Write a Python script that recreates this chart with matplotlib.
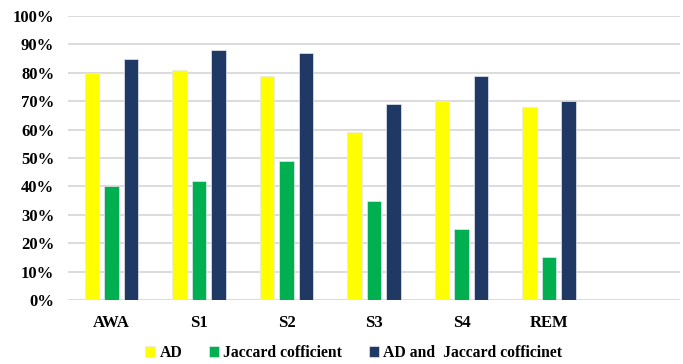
import numpy as np
import matplotlib
matplotlib.use('Agg')
from matplotlib import pyplot as plt
from matplotlib.ticker import PercentFormatter

stages = ['AWA', 'S1', 'S2', 'S3', 'S4', 'REM']
ad = [80, 81, 79, 59, 70, 68]
jaccard = [40, 42, 49, 35, 25, 15]
ad_jaccard = [85, 88, 87, 69, 79, 70]
series_names = ['AD', 'Jaccard cofficient', 'AD and  Jaccard cofficinet']
colors = ['#FFFF00', '#00B050', '#1F3864']

plt.rcParams['font.family'] = ['Liberation Serif', 'DejaVu Serif']
plt.rcParams['font.weight'] = 'bold'

fig = plt.figure(figsize=(6.83, 3.64), dpi=100)
ax = fig.add_axes([0.0996, 0.1758, 0.8960, 0.7802])

x = np.arange(len(stages))
w = 0.166
step = 0.223
for i, (vals, name, c) in enumerate(zip([ad, jaccard, ad_jaccard], series_names, colors)):
    ax.bar(x + (i - 1) * step, np.array(vals) / 100, width=w, color=c,
           edgecolor='#e6e8ee', linewidth=0.5, label=name, zorder=3)

# one empty slot on the right, like the original sheet
ax.set_xlim(-0.5, 6.5)
ax.set_ylim(0, 1.0)
ax.set_yticks(np.arange(0, 1.01, 0.1))
ax.yaxis.set_major_formatter(PercentFormatter(1.0, decimals=0))
ax.set_xticks(x)
ax.set_xticklabels(stages)
ax.grid(axis='y', color='#d9d9d9', linewidth=1.3, zorder=0)
for s in ax.spines.values():
    s.set_visible(False)
ax.tick_params(axis='both', length=0, labelsize=12)
ax.tick_params(axis='x', pad=11)
ax.tick_params(axis='y', pad=10)

fig.legend(loc='center', bbox_to_anchor=(0.518, 0.03), ncol=3, frameon=False,
           fontsize=11.3, handlelength=0.62, handleheight=0.62,
           handletextpad=0.3, columnspacing=1.7)

plt.savefig('out.png', dpi=100)
plt.close()
